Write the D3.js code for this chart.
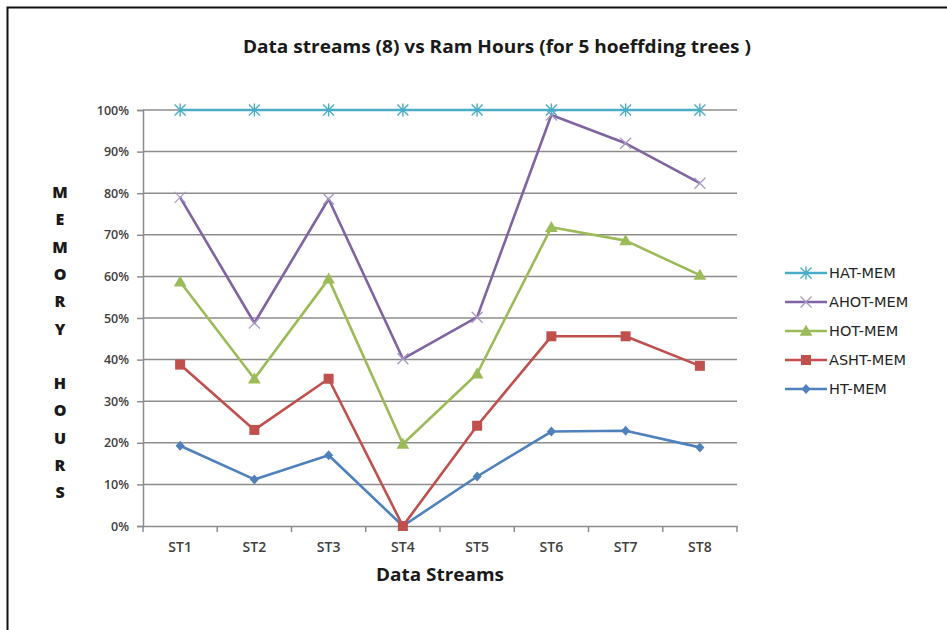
<!DOCTYPE html>
<html>
<head>
<meta charset="utf-8">
<script src="https://cdn.jsdelivr.net/npm/d3@7"></script>
<style>
  html, body { margin: 0; padding: 0; background: #fff; }
  svg { display: block; }
</style>
</head>
<body>
<svg id="chart" width="947" height="630"></svg>
<script>
// Categories and series (percent of RAM hours)
const streams = ["ST1", "ST2", "ST3", "ST4", "ST5", "ST6", "ST7", "ST8"];
const hatMem  = [100, 100, 100, 100, 100, 100, 100, 100];
const ahotMem = [79, 48.8, 78.6, 40.2, 50.2, 98.8, 92, 82.4];
const hotMem  = [58.7, 35.4, 59.4, 19.7, 36.6, 71.8, 68.6, 60.3];
const ashtMem = [38.8, 23.1, 35.4, 0, 24.1, 45.6, 45.6, 38.5];
const htMem   = [19.3, 11.2, 17, 0, 11.9, 22.7, 22.9, 18.9];
const yTicks  = [0, 10, 20, 30, 40, 50, 60, 70, 80, 90, 100];
const axisLetters = ["M", "E", "M", "O", "R", "Y", "", "H", "O", "U", "R", "S"];

const series = [
  { name: "HAT-MEM",  values: hatMem,  color: "#4bacc6", marker: "star" },
  { name: "AHOT-MEM", values: ahotMem, color: "#8064a2", marker: "x" },
  { name: "HOT-MEM",  values: hotMem,  color: "#9bbb59", marker: "triangle" },
  { name: "ASHT-MEM", values: ashtMem, color: "#c0504d", marker: "square" },
  { name: "HT-MEM",   values: htMem,   color: "#4f81bd", marker: "diamond" }
];

const svg = d3.select("#chart");
const font = "'Open Sans', 'Liberation Sans', sans-serif";
const wideFont = "'DejaVu Sans', Verdana, sans-serif";

// outer frame
svg.append("rect")
  .attr("x", 7.5).attr("y", 7.5).attr("width", 1000).attr("height", 700)
  .attr("fill", "none").attr("stroke", "#111").attr("stroke-width", 2);

const plot = { left: 143, right: 737, top: 110, bottom: 526 };

const x = d3.scaleBand().domain(streams).range([plot.left, plot.right]);
const y = d3.scaleLinear().domain([0, 100]).range([plot.bottom, plot.top]);

// horizontal gridlines
svg.append("g")
  .selectAll("line")
  .data(yTicks.filter(t => t > 0))
  .join("line")
  .attr("x1", plot.left).attr("x2", plot.right)
  .attr("y1", d => y(d)).attr("y2", d => y(d))
  .attr("stroke", "#8c8c8c").attr("stroke-width", 1.5);

// y axis
const yAxis = svg.append("g")
  .attr("transform", `translate(${plot.left},0)`)
  .call(d3.axisLeft(y).tickValues(yTicks).tickFormat(d => d + "%").tickSize(6).tickPadding(8));
yAxis.select(".domain").attr("stroke", "#8c8c8c").attr("stroke-width", 1.5);
yAxis.selectAll(".tick line").attr("stroke", "#8c8c8c").attr("stroke-width", 1.5);
yAxis.selectAll(".tick text")
  .attr("font-family", font).attr("font-size", 12.5).attr("font-weight", 600).attr("fill", "#404040");

// x axis with boundary ticks between categories
const xAxis = svg.append("g")
  .attr("transform", `translate(0,${plot.bottom})`)
  .call(d3.axisBottom(x).tickSize(0).tickPadding(16));
xAxis.select(".domain").attr("stroke", "#8c8c8c").attr("stroke-width", 1.5);
xAxis.selectAll(".tick text")
  .attr("font-family", font).attr("font-size", 14).attr("font-weight", 600).attr("fill", "#404040");
const boundaries = streams.map(s => x(s)).concat([x(streams[streams.length - 1]) + x.bandwidth()]);
xAxis.append("g").selectAll("line")
  .data(boundaries)
  .join("line")
  .attr("x1", d => d).attr("x2", d => d)
  .attr("y1", 0).attr("y2", 6)
  .attr("stroke", "#8c8c8c").attr("stroke-width", 1.5);

// marker shapes
function drawMarker(g, type, color, cx, cy) {
  if (type === "star") {
    const r = 5.5;
    g.append("path")
      .attr("d", `M${cx - r},${cy - r}L${cx + r},${cy + r}M${cx - r},${cy + r}L${cx + r},${cy - r}M${cx},${cy - r - 1}L${cx},${cy + r + 1}`)
      .attr("stroke", color).attr("stroke-width", 1.4).attr("fill", "none");
  } else if (type === "x") {
    const r = 5.5;
    g.append("path")
      .attr("d", `M${cx - r},${cy - r}L${cx + r},${cy + r}M${cx - r},${cy + r}L${cx + r},${cy - r}`)
      .attr("stroke", "#a898c4").attr("stroke-width", 1.3).attr("fill", "none");
  } else if (type === "triangle") {
    g.append("path")
      .attr("d", d3.symbol().type(d3.symbolTriangle).size(70)())
      .attr("transform", `translate(${cx},${cy + 1})`)
      .attr("fill", color);
  } else if (type === "square") {
    g.append("rect")
      .attr("x", cx - 5).attr("y", cy - 5).attr("width", 10).attr("height", 10)
      .attr("fill", color);
  } else if (type === "diamond") {
    g.append("path")
      .attr("d", `M${cx},${cy - 5}L${cx + 4.5},${cy}L${cx},${cy + 5}L${cx - 4.5},${cy}Z`)
      .attr("fill", color);
  }
}

const cx = s => x(s) + x.bandwidth() / 2;
const line = d3.line().x((d, i) => cx(streams[i])).y(d => y(d));

// draw series bottom-up so the upper series sit on top
series.slice().reverse().forEach(s => {
  const g = svg.append("g");
  g.append("path")
    .attr("d", line(s.values))
    .attr("fill", "none").attr("stroke", s.color).attr("stroke-width", 2.6)
    .attr("stroke-linejoin", "round");
  s.values.forEach((v, i) => drawMarker(g, s.marker, s.color, cx(streams[i]), y(v)));
});

// legend
const legend = svg.append("g");
const legendY = d3.scalePoint().domain(series.map(s => s.name)).range([273, 389]);
series.forEach(s => {
  const ly = legendY(s.name);
  legend.append("line")
    .attr("x1", 785).attr("x2", 827).attr("y1", ly).attr("y2", ly)
    .attr("stroke", s.color).attr("stroke-width", 2.6);
  drawMarker(legend, s.marker, s.color, 806, ly);
  legend.append("text")
    .attr("x", 829).attr("y", ly).attr("dy", "0.35em")
    .attr("font-family", wideFont).attr("font-size", 14.5).attr("fill", "#262626")
    .text(s.name);
});

// title
svg.append("text")
  .attr("x", 497).attr("y", 53).attr("text-anchor", "middle")
  .attr("font-family", font).attr("font-size", 17).attr("font-weight", 700)
  .attr("fill", "#1a1a1a")
  .attr("textLength", 508).attr("lengthAdjust", "spacingAndGlyphs")
  .text("Data streams (8) vs Ram  Hours (for 5 hoeffding trees )");

// x axis title
svg.append("text")
  .attr("x", 440).attr("y", 581).attr("text-anchor", "middle")
  .attr("font-family", font).attr("font-size", 17).attr("font-weight", 700)
  .attr("fill", "#1a1a1a")
  .attr("textLength", 128).attr("lengthAdjust", "spacingAndGlyphs")
  .text("Data Streams");

// stacked y axis title
svg.append("g").selectAll("text")
  .data(axisLetters)
  .join("text")
  .attr("x", 60)
  .attr("y", (d, i) => 198 + i * 27.3)
  .attr("text-anchor", "middle")
  .attr("font-family", font).attr("font-size", 16).attr("font-weight", 800)
  .attr("fill", "#1a1a1a")
  .text(d => d);
</script>
</body>
</html>
